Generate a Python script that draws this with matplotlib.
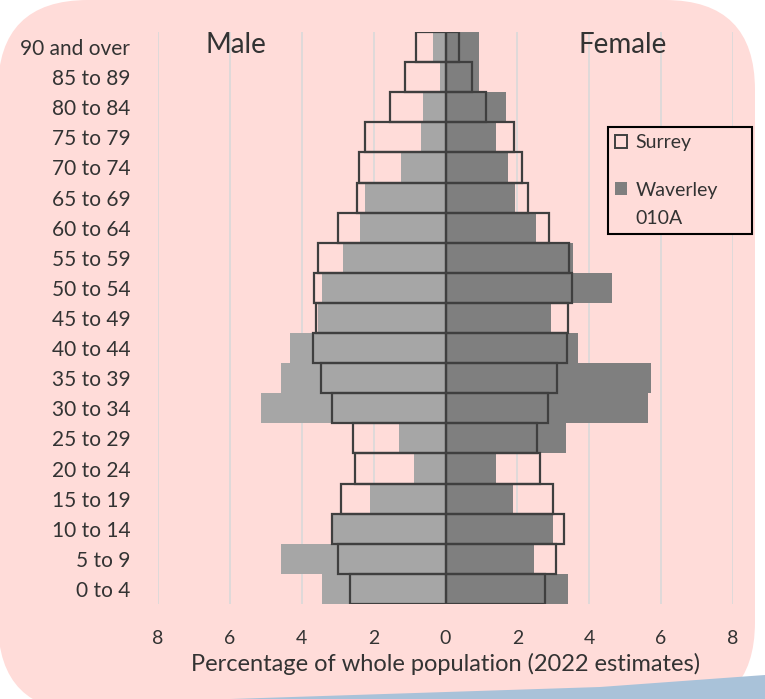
import matplotlib
matplotlib.use("Agg")
import matplotlib.pyplot as plt
from matplotlib.patches import FancyBboxPatch, Polygon, Patch
from matplotlib.legend_handler import HandlerPatch

plt.rcParams['font.family'] = ['Lato', 'DejaVu Sans']
TXT = '#333333'

# ---- data (% of whole population) ----
ages = ['0 to 4', '5 to 9', '10 to 14', '15 to 19', '20 to 24', '25 to 29',
        '30 to 34', '35 to 39', '40 to 44', '45 to 49', '50 to 54', '55 to 59',
        '60 to 64', '65 to 69', '70 to 74', '75 to 79', '80 to 84', '85 to 89',
        '90 and over']
waverley_male = [3.44, 4.59, 3.12, 2.10, 0.89, 1.29, 5.13, 4.59, 4.32, 3.56,
                 3.44, 2.85, 2.37, 2.23, 1.24, 0.68, 0.62, 0.14, 0.35]
waverley_female = [3.42, 2.47, 3.00, 1.88, 1.40, 3.35, 5.63, 5.71, 3.69, 2.94,
                   4.63, 3.55, 2.53, 1.94, 1.73, 1.40, 1.67, 0.92, 0.92]
surrey_male = [2.65, 2.99, 3.17, 2.92, 2.51, 2.58, 3.17, 3.47, 3.70, 3.61,
               3.67, 3.56, 2.99, 2.46, 2.42, 2.23, 1.55, 1.13, 0.83]
surrey_female = [2.76, 3.07, 3.30, 2.98, 2.63, 2.54, 2.86, 3.11, 3.39, 3.41,
                 3.51, 3.44, 2.89, 2.29, 2.12, 1.90, 1.13, 0.73, 0.38]
xticks = [-8, -6, -4, -2, 0, 2, 4, 6, 8]

W, H = 765, 699
fig = plt.figure(figsize=(W / 100, H / 100), dpi=100)

# background: pink rounded panel + blue strip at the bottom
bg = fig.add_axes([0, 0, 1, 1], zorder=-10)
bg.set_xlim(0, W)
bg.set_ylim(H, 0)
bg.axis('off')
r = 90
bg.add_patch(FancyBboxPatch((-2 + r, r), 757 - 2 * r, 712 - 2 * r,
                            boxstyle='round,pad=%d' % r, fc='#ffdcd9', ec='none'))
bg.add_patch(Polygon([(200, 700), (600, 687), (765, 675), (765, 700)],
                     closed=True, fc='#a9c2d9', ec='none'))

ax = fig.add_axes([158 / W, (H - 604) / H, 575 / W, 572 / H])
ax.set_facecolor('none')
y = list(range(len(ages)))

ax.barh(y, [-v for v in waverley_male], height=1.0, color='#a6a6a6', zorder=2)
ax.barh(y, waverley_female, height=1.0, color='#7f7f7f', zorder=2)
ax.axvline(0, color='#ececec', lw=1.3, zorder=3)
ax.barh(y, [-v for v in surrey_male], height=1.0, fill=False,
        edgecolor='#3f3f3f', lw=1.6, zorder=4)
ax.barh(y, surrey_female, height=1.0, fill=False,
        edgecolor='#3f3f3f', lw=1.6, zorder=4)

for gx in xticks:
    if gx != 0:
        ax.axvline(gx, color='#d9d9d9', lw=1.2, zorder=1)

ax.set_xlim(-8, 8)
ax.set_ylim(-0.5, len(ages) - 0.5)
ax.set_xticks(xticks)
ax.set_xticklabels([str(abs(v)) for v in xticks])
ax.set_yticks(y)
ax.set_yticklabels(ages)
ax.tick_params(axis='both', length=0, labelsize=14, labelcolor=TXT)
ax.tick_params(axis='y', labelsize=15, pad=20)
ax.tick_params(axis='x', pad=19)
for s in ax.spines.values():
    s.set_visible(False)
ax.set_xlabel('Percentage of whole population (2022 estimates)',
              fontsize=17, color=TXT, labelpad=4)

ax.text(-5.82, 18.07, 'Male', fontsize=20, color=TXT, ha='center', va='center')
ax.text(4.93, 18.07, 'Female', fontsize=20, color=TXT, ha='center', va='center')


class UpperPatch(HandlerPatch):
    def __init__(self, shift=0, **kw):
        super().__init__(**kw)
        self.shift = shift

    def create_artists(self, legend, orig_handle, xdescent, ydescent,
                       width, height, fontsize, trans):
        return super().create_artists(legend, orig_handle, xdescent,
                                      ydescent - self.shift, width, height,
                                      fontsize, trans)


h_surrey = Patch(facecolor='none', edgecolor='#3f3f3f', lw=1.4)
h_wav = Patch(facecolor='#7f7f7f', edgecolor='none')
leg = fig.legend([h_surrey, h_wav], ['Surrey', 'Waverley\n010A'],
                 loc='upper left', bbox_to_anchor=(608 / W, 1 - 128 / H, 144 / W, 0.001),
                 mode='expand', borderaxespad=0, fontsize=14, frameon=True,
                 fancybox=False, edgecolor='black', facecolor='#ffdcd9',
                 framealpha=1, handlelength=0.62, handleheight=0.62,
                 handletextpad=0.45, labelspacing=1.6, borderpad=0.35,
                 labelcolor=TXT,
                 handler_map={h_wav: UpperPatch(shift=11.5), h_surrey: HandlerPatch()})
leg.get_frame().set_linewidth(1.5)
for t in leg.get_texts():
    t.set_linespacing(1.75)

fig.savefig('out.png', dpi=100)
